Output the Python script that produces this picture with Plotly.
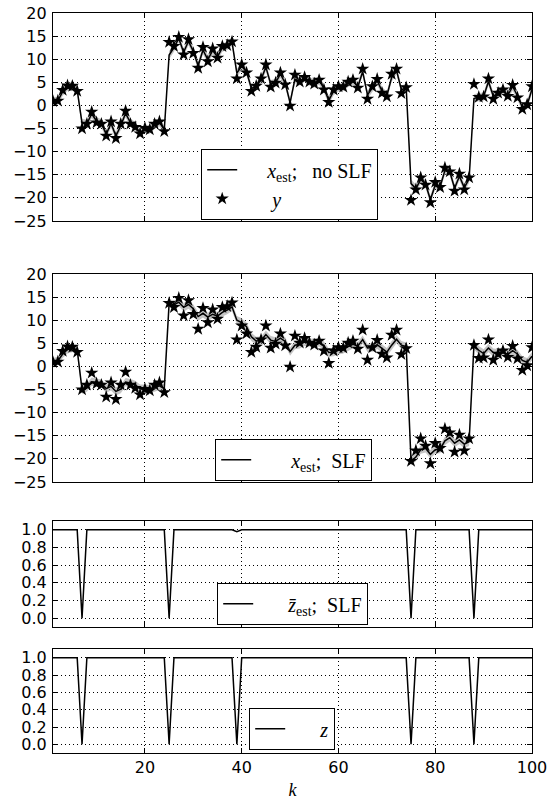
import plotly.graph_objects as go
from plotly.subplots import make_subplots

k = list(range(1, 101))

y_meas = [0.9, 1.0, 3.3, 4.3, 4.2, 3.1, -5.0, -4.0, -1.4, -3.7,
          -4.0, -6.6, -3.5, -7.1, -4.0, -1.2, -4.0, -4.7, -6.1, -4.9,
          -5.2, -4.0, -3.5, -5.6, 13.7, 12.8, 14.8, 11.0, 14.3, 11.3,
          8.1, 12.6, 9.5, 12.3, 10.3, 12.8, 13.0, 13.8, 5.8, 8.8,
          7.1, 3.1, 4.2, 5.8, 8.8, 4.0, 4.9, 7.1, 4.5, -0.1,
          6.6, 5.1, 6.1, 5.1, 4.7, 5.5, 3.4, 0.7, 3.4, 4.1,
          4.0, 5.1, 5.5, 3.8, 7.9, 1.4, 4.1, 5.7, 2.7, 1.9,
          6.8, 7.9, 2.6, 3.9, -20.5, -18.2, -15.6, -17.2, -21.0, -16.6,
          -17.7, -13.5, -14.3, -18.5, -14.8, -18.2, -15.6, 4.6, 1.8, 1.9,
          5.8, 1.4, 2.7, 3.4, 2.0, 4.4, 1.7, -0.8, 0.2, 4.1]

x_est_noslf = [0.9, 1.0, 3.0, 4.1, 4.2, 3.3, -3.8, -4.0, -1.8, -3.4,
               -3.9, -6.2, -3.9, -6.6, -4.4, -1.7, -3.7, -4.5, -5.9, -5.0,
               -5.2, -4.2, -3.6, -5.3, 10.9, 12.5, 14.5, 11.5, 13.9, 11.7,
               8.6, 12.0, 9.9, 11.9, 10.5, 12.5, 12.9, 13.7, 7.0, 8.5,
               7.3, 3.7, 4.1, 5.6, 8.3, 4.6, 4.9, 6.8, 4.8, 0.6,
               5.7, 5.2, 6.0, 5.2, 4.8, 5.4, 3.7, 1.1, 3.1, 3.9,
               4.0, 4.9, 5.4, 4.0, 7.3, 2.3, 3.8, 5.4, 3.1, 2.1,
               6.1, 7.6, 3.4, 3.8, -16.9, -18.0, -16.0, -17.0, -20.4, -17.2,
               -17.6, -14.1, -14.3, -17.9, -15.3, -17.8, -15.9, 1.5, 1.8, 1.9,
               5.2, 2.0, 2.6, 3.3, 2.2, 4.1, 2.1, -0.4, 0.1, 3.5]

x_est_slf = [0.9, 1.2, 2.7, 3.7, 4.0, 3.6, -5.0, -4.6, -3.3, -3.5,
             -3.7, -4.8, -4.3, -5.4, -4.9, -3.4, -3.6, -4.0, -4.8, -4.8,
             -4.9, -4.6, -4.2, -4.8, 13.7, 13.3, 13.9, 12.8, 13.4, 12.5,
             10.8, 11.5, 10.7, 11.3, 10.9, 11.7, 12.2, 12.9, 10.0, 9.5,
             8.6, 6.4, 5.5, 5.6, 6.9, 5.7, 5.4, 6.1, 5.4, 3.2,
             4.6, 4.8, 5.3, 5.2, 5.0, 5.2, 4.5, 3.0, 3.1, 3.5,
             3.7, 4.3, 4.8, 4.4, 5.8, 4.0, 4.1, 4.7, 3.9, 3.1,
             4.6, 5.9, 4.6, 4.3, -20.5, -19.6, -18.0, -17.7, -19.0, -18.0,
             -17.9, -16.1, -15.4, -16.6, -15.9, -16.8, -16.3, 4.6, 3.5, 2.8,
             4.0, 3.0, 2.9, 3.1, 2.6, 3.4, 2.7, 1.3, 0.9, 2.2]

z_est_slf = [1.0] * 100
for i, v in [(7, 0.0), (25, 0.0), (39, 0.98), (75, 0.0), (88, 0.0)]:
    z_est_slf[i - 1] = v

z_true = [1.0] * 100
for i in [7, 25, 39, 75, 88]:
    z_true[i - 1] = 0.0

band_sigma = 0.9

y_ticks_big = [-25, -20, -15, -10, -5, 0, 5, 10, 15, 20]
y_ticks_small = [0.0, 0.2, 0.4, 0.6, 0.8, 1.0]
x_ticks = [20, 40, 60, 80, 100]

FIG_W, FIG_H = 559, 800
PL, PR, PT, PB = 53, 532, 13, 753   # plot area in page pixels
H_PLOT = float(PB - PT)

fig = make_subplots(rows=4, cols=1, shared_xaxes=False)

def dom(top_px, bot_px):
    return [(PB - bot_px) / H_PLOT, (PB - top_px) / H_PLOT]

band_color = "rgba(150,150,150,0.55)"

def add_band(row, est):
    up = [e + band_sigma for e in est]
    lo = [e - band_sigma for e in est]
    fig.add_trace(go.Scatter(x=k + k[::-1], y=up + lo[::-1], fill="toself",
                             fillcolor=band_color, line=dict(width=0),
                             hoverinfo="skip", showlegend=False), row=row, col=1)

LEGFONT = dict(family="Liberation Serif", size=20, color="black")
NB = "\u00a0"

# subplot 1
add_band(1, x_est_noslf)
fig.add_trace(go.Scatter(x=k, y=x_est_noslf, mode="lines",
                         line=dict(color="black", width=1.5),
                         name=NB * 5 + "<i>x</i><sub>est</sub>;" + NB * 3 + "no SLF", legend="legend"), row=1, col=1)
fig.add_trace(go.Scatter(x=k, y=y_meas, mode="markers",
                         marker=dict(symbol="star", size=10, color="black"),
                         name=NB * 6 + "<i>y</i>", legend="legend"), row=1, col=1)

# subplot 2
add_band(2, x_est_slf)
fig.add_trace(go.Scatter(x=k, y=x_est_slf, mode="lines",
                         line=dict(color="black", width=1.5),
                         name=NB * 7 + "<i>x</i><sub>est</sub>;" + NB * 2 + "SLF", legend="legend2"), row=2, col=1)
fig.add_trace(go.Scatter(x=k, y=y_meas, mode="markers",
                         marker=dict(symbol="star", size=10, color="black"),
                         showlegend=False), row=2, col=1)

# subplot 3
fig.add_trace(go.Scatter(x=k, y=z_est_slf, mode="lines",
                         line=dict(color="black", width=1.5),
                         name=NB * 6 + "<i>z\u0304</i><sub>est</sub>;" + NB * 2 + "SLF", legend="legend3"), row=3, col=1)

# subplot 4
fig.add_trace(go.Scatter(x=k, y=z_true, mode="lines",
                         line=dict(color="black", width=1.5),
                         name=NB * 6 + "<i>z</i>", legend="legend4"), row=4, col=1)

axis_common = dict(showline=True, linecolor="black", linewidth=1.2, mirror="allticks",
                   ticks="inside", ticklen=5, tickcolor="black",
                   showgrid=True, gridcolor="black", gridwidth=0.7, griddash="1px,3px",
                   zeroline=False, automargin=False, ticklabeloverflow="allow",
                   tickfont=dict(family="DejaVu Sans", size=16, color="black"))

doms = [dom(13, 221), dom(274, 482), dom(521, 627), dom(649, 753)]
for i in range(4):
    xa = "xaxis" if i == 0 else f"xaxis{i+1}"
    ya = "yaxis" if i == 0 else f"yaxis{i+1}"
    fig.layout[xa].update(range=[1, 100], tickvals=x_ticks, showticklabels=(i == 3),
                          **axis_common)
    if i < 2:
        fig.layout[ya].update(range=[-25, 20], tickvals=y_ticks_big, domain=doms[i],
                              ticklabelstandoff=2, **axis_common)
    else:
        fig.layout[ya].update(range=[-0.1, 1.1], tickvals=y_ticks_small, tickformat=".1f",
                              domain=doms[i], ticklabelstandoff=2, **axis_common)

fig.layout.xaxis4.title = dict(text="<i>k</i>", font=dict(family="Liberation Serif", size=18, color="black"),
                               standoff=8)

def px2x(px):
    return (px - PL) / float(PR - PL)

def px2y(py):
    return (PB - py) / H_PLOT

leg_common = dict(bgcolor="white", bordercolor="black", borderwidth=1.2, font=LEGFONT,
                  xanchor="left", yanchor="bottom", itemwidth=30, tracegroupgap=0)
fig.update_layout(
    legend=dict(x=px2x(201), y=px2y(220), **leg_common),
    legend2=dict(x=px2x(215), y=px2y(481), **leg_common),
    legend3=dict(x=px2x(217), y=px2y(625), **leg_common),
    legend4=dict(x=px2x(249), y=px2y(750), **leg_common),
)

fig.update_layout(width=FIG_W, height=FIG_H,
                  margin=dict(l=PL, r=FIG_W - PR, t=PT, b=FIG_H - PB),
                  plot_bgcolor="white", paper_bgcolor="white",
                  font=dict(family="DejaVu Sans", color="black"))

fig.write_html("out.html", config={"displayModeBar": False},
               post_script="document.body.style.margin='0px';document.body.style.overflow='hidden';")
